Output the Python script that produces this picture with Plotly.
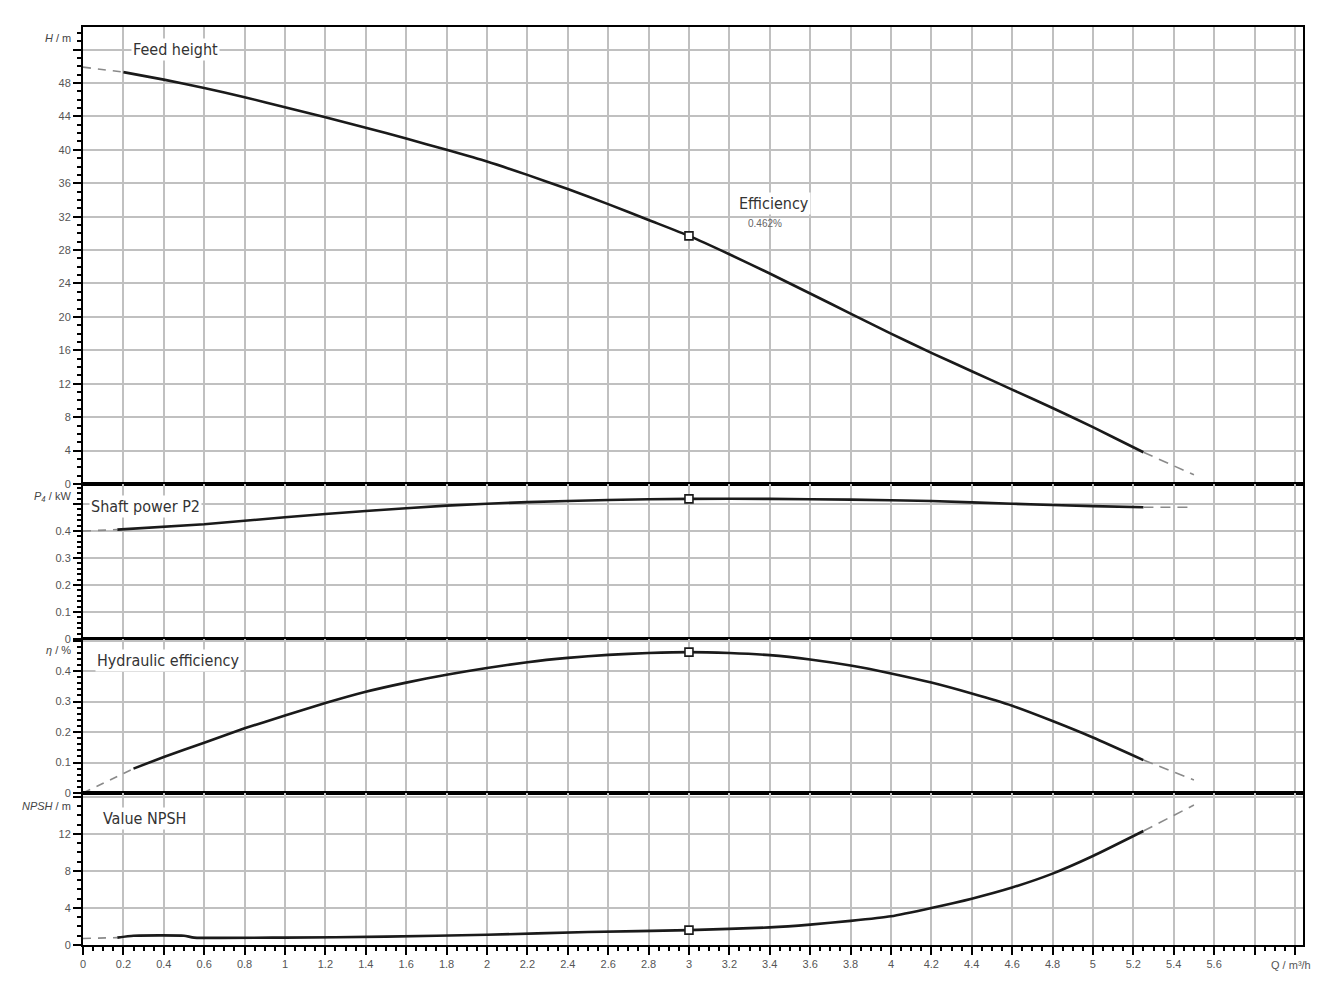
import plotly.graph_objects as go
from plotly.subplots import make_subplots

# ---------------- data ----------------
q_h = [0, 0.2, 0.4, 0.6, 0.8, 1.0, 1.2, 1.4, 1.6, 1.8, 2.0, 2.2, 2.4, 2.6, 2.8,
       3.0, 3.2, 3.4, 3.6, 3.8, 4.0, 4.2, 4.4, 4.6, 4.8, 5.0, 5.2, 5.25, 5.5]
head = [49.9, 49.3, 48.4, 47.4, 46.3, 45.1, 43.9, 42.65, 41.35, 40.0, 38.6, 37.0, 35.3, 33.5, 31.6,
        29.7, 27.5, 25.2, 22.8, 20.4, 18.0, 15.7, 13.5, 11.3, 9.1, 6.8, 4.4, 3.8, 1.1]

q_p = [0, 0.17, 0.6, 1.0, 1.4, 1.8, 2.2, 2.6, 3.0, 3.4, 3.8, 4.2, 4.6, 5.0, 5.25, 5.5]
power = [0.40, 0.405, 0.425, 0.451, 0.474, 0.494, 0.507, 0.515, 0.519, 0.519, 0.516, 0.511,
         0.501, 0.492, 0.488, 0.488]

q_eta = [0, 0.25, 0.4, 0.6, 0.8, 1.0, 1.2, 1.4, 1.6, 1.8, 2.0, 2.2, 2.4, 2.6, 2.8, 3.0,
         3.2, 3.4, 3.6, 3.8, 4.0, 4.2, 4.4, 4.6, 4.8, 5.0, 5.25, 5.5]
eta = [0, 0.08, 0.118, 0.165, 0.212, 0.254, 0.295, 0.332, 0.362, 0.388, 0.41, 0.429, 0.443,
       0.453, 0.459, 0.462, 0.459, 0.452, 0.438, 0.418, 0.392, 0.362, 0.326, 0.286, 0.236,
       0.182, 0.108, 0.043]

q_n = [0, 0.17, 0.25, 0.5, 0.55, 1.0, 1.5, 2.0, 2.5, 3.0, 3.4, 3.6, 3.8, 4.0, 4.2, 4.4,
       4.6, 4.8, 5.0, 5.25, 5.5]
npsh = [0.7, 0.8, 1.0, 1.0, 0.8, 0.8, 0.9, 1.1, 1.4, 1.6, 1.9, 2.2, 2.6, 3.1, 4.0, 5.0,
        6.2, 7.7, 9.6, 12.3, 15.1]

duty_q = 3.0
eff_text = "0.462%"

x_tickvals = [round(0.2 * i, 1) for i in range(31)]
x_ticktext = [("%g" % v) if v <= 5.6 else "" for v in x_tickvals]

# ---------------- figure ----------------
fig = make_subplots(rows=4, cols=1, shared_xaxes=True, vertical_spacing=0,
                    row_heights=[457, 155, 154, 152])

series = [(q_h, head, 1), (q_p, power, 2), (q_eta, eta, 3), (q_n, npsh, 4)]
SOLID = "#1a1a1a"
DASH = "#8a8a8a"
for q, v, row in series:
    fig.add_trace(go.Scatter(x=q[:2], y=v[:2], mode="lines",
                             line=dict(color=DASH, width=1.6, dash="8px,7px"),
                             showlegend=False, hoverinfo="skip"), row=row, col=1)
    fig.add_trace(go.Scatter(x=q[1:-1], y=v[1:-1], mode="lines",
                             line=dict(color=SOLID, width=2.6, shape="spline", smoothing=0.5),
                             showlegend=False), row=row, col=1)
    fig.add_trace(go.Scatter(x=q[-2:], y=v[-2:], mode="lines",
                             line=dict(color=DASH, width=1.6, dash="10px,7px"),
                             showlegend=False, hoverinfo="skip"), row=row, col=1)
    dv = v[q.index(duty_q)]
    fig.add_trace(go.Scatter(x=[duty_q], y=[dv], mode="markers",
                             marker=dict(symbol="square", size=8, color="white",
                                         line=dict(color=SOLID, width=1.6)),
                             showlegend=False), row=row, col=1)

GRID = "#c0c0c0"
tickfont = dict(family="Liberation Sans, Arial, sans-serif", size=11, color="#555555")

for r in range(1, 5):
    bottom = r == 4
    fig.update_xaxes(row=r, col=1, range=[0, 6.04], tickvals=x_tickvals,
                     ticktext=x_ticktext if bottom else None,
                     showticklabels=bottom, showgrid=True, gridcolor=GRID, gridwidth=1.5,
                     zeroline=False, showline=True, linecolor="black", linewidth=2,
                     mirror=True, ticks="outside" if bottom else "",
                     ticklen=8, tickwidth=1.5, tickcolor="black", tickfont=tickfont,
                     minor=dict(dtick=0.05, ticks="outside" if bottom else "",
                                ticklen=4, tickcolor="black", showgrid=False))

y_specs = [
    (1, [0, 54.7], list(range(0, 53, 4)), 1),
    (2, [0, 0.574], [0, 0.1, 0.2, 0.3, 0.4, 0.5], 0.02),
    (3, [0, 0.505], [0, 0.1, 0.2, 0.3, 0.4, 0.5], 0.02),
    (4, [0, 16.4], [0, 4, 8, 12, 16], 1),
]
for r, rng, tv, mdt in y_specs:
    tt = [("%g" % v) for v in tv[:-1]] + [""]
    fig.update_yaxes(row=r, col=1, range=rng, tickvals=tv, ticktext=tt,
                     showgrid=True, gridcolor=GRID, gridwidth=1.5, zeroline=False,
                     showline=True, linecolor="black", linewidth=2, mirror=True,
                     ticks="outside", ticklen=8, tickwidth=1.5, tickcolor="black",
                     tickfont=tickfont,
                     minor=dict(dtick=mdt, ticks="outside", ticklen=4,
                                tickcolor="black", showgrid=False))

label_font = dict(family="Liberation Sans Narrow, DejaVu Sans Condensed, Arial Narrow, sans-serif",
                  size=16, color="#333333")
axis_font = dict(family="Liberation Sans, Arial, sans-serif", size=11, color="#444444")

anns = [
    dict(text="Feed height", x=0.24, y=52, xref="x", yref="y", xanchor="left"),
    dict(text="Shaft power P2", x=0.03, y=0.49, xref="x2", yref="y2", xanchor="left"),
    dict(text="Hydraulic efficiency", x=0.06, y=0.435, xref="x3", yref="y3", xanchor="left"),
    dict(text="Value NPSH", x=0.09, y=13.6, xref="x4", yref="y4", xanchor="left"),
    dict(text="Efficiency", x=3.24, y=33.6, xref="x", yref="y", xanchor="left"),
]
for a in anns:
    fig.add_annotation(**a, showarrow=False, font=label_font, bgcolor="white",
                       borderpad=1, yanchor="middle")

fig.add_annotation(text=eff_text, x=3.28, y=31.2, xref="x", yref="y", xanchor="left",
                   yanchor="middle", showarrow=False,
                   font=dict(family="Liberation Sans, Arial, sans-serif", size=10, color="#666666"))

axis_titles = [
    ("<i>H</i> / m", 53.4, "y"),
    ("<i>P₄</i> / kW", 0.53, "y2"),
    ("<i>η</i> / %", 0.47, "y3"),
    ("<i>NPSH</i> / m", 15.0, "y4"),
]
for txt, yv, yr in axis_titles:
    fig.add_annotation(text=txt, x=-0.008, y=yv, xref="paper", yref=yr, xanchor="right",
                       yanchor="middle", showarrow=False, font=axis_font)

fig.add_annotation(text="Q / m³/h", x=5.98, y=0, xref="x4", yref="paper", xanchor="center",
                   yanchor="top", showarrow=False, yshift=-12, font=tickfont)

fig.update_layout(width=1327, height=1000, paper_bgcolor="white", plot_bgcolor="white",
                  margin=dict(l=75, r=32, t=19, b=63), showlegend=False)

fig.write_html("out.html")
